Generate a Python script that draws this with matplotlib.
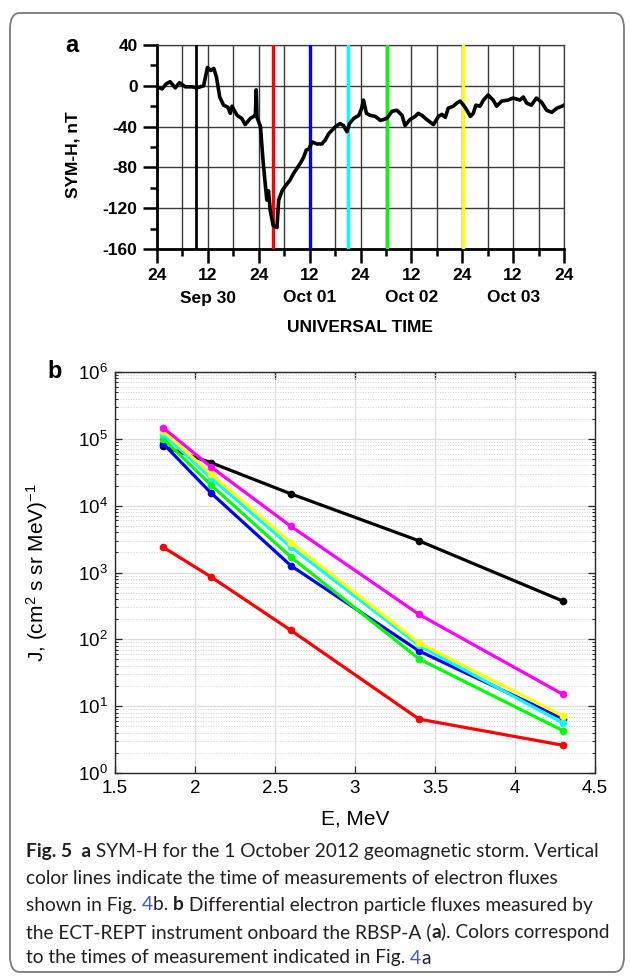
import matplotlib
matplotlib.use("Agg")
import matplotlib.pyplot as plt
from matplotlib.patches import FancyBboxPatch
from matplotlib.ticker import MultipleLocator, LogLocator, NullFormatter
import matplotlib.transforms as mtransforms

plt.rcParams['font.family'] = ['Liberation Sans', 'DejaVu Sans']
plt.rcParams['mathtext.fontset'] = 'custom'
plt.rcParams['mathtext.rm'] = 'Liberation Sans'
plt.rcParams['mathtext.default'] = 'regular'
plt.rcParams['axes.unicode_minus'] = False

# ---- panel a: SYM-H, hours from 30 Sep 00 UT
t_hours = [0, 1.2, 2.2, 3.1, 4.3, 5.3, 6.7, 8.3, 9.4, 11.0, 11.9, 12.7, 13.4, 14.0, 14.8,
           15.7, 16.7, 17.3, 17.7, 18.9, 20.0, 20.8, 22.0, 22.8, 23.2, 23.4, 23.6, 24.4,
           25.0, 25.6, 25.9, 26.3, 26.7, 27.4, 28.3, 28.7, 29.5, 30.3, 31.3, 32.2, 33.8,
           34.6, 35.2, 35.8, 36.6, 37.7, 38.9, 39.7, 40.5, 42.1, 43.2, 44.0, 44.8, 45.4,
           46.4, 47.6, 48.2, 48.7, 49.4, 50.3, 51.5, 52.7, 54.2, 55.4, 56.6, 57.8, 58.5,
           59.7, 60.9, 61.6, 62.5, 63.6, 65.2, 66.4, 67.2, 68.0, 68.7, 69.9, 70.7, 71.5,
           72.3, 73.1, 73.9, 74.6, 75.2, 76.2, 77.0, 78.1, 79.3, 80.1, 81.3, 82.8, 84.0,
           85.6, 86.4, 87.2, 88.3, 89.5, 90.7, 91.9, 93.1, 94.3, 95.5, 96.0]
symh = [-1, -3, 2, 4, -2, 3, -1, -1, -2, 0, 18, 15, 17, 9, -11,
        -19, -21, -27, -20, -29, -32, -38, -32, -30, -29, -4, -31, -40,
        -73, -99, -112, -103, -122, -137, -139, -112, -103, -98, -93, -86, -76,
        -70, -63, -62, -55, -57, -57, -53, -47, -40, -37, -39, -45, -37,
        -32, -29, -23, -14, -27, -29, -30, -34, -32, -25, -24, -29, -39,
        -33, -30, -27, -29, -33, -38, -30, -28, -31, -22, -20, -17, -15,
        -19, -24, -30, -27, -19, -20, -14, -9, -14, -20, -15, -14, -12,
        -14, -11, -17, -19, -12, -16, -24, -26, -22, -20, -19]

meas_times = [9.1, 27.3, 36.1, 45.1, 54.2, 72.2]
meas_colors = ['black', '#ff0000', '#0000ff', '#00ffff', '#00ff00', '#ffff00']

x_ticks = [0, 12, 24, 36, 48, 60, 72, 84, 96]
x_ticklabels = ['24', '12', '24', '12', '24', '12', '24', '12', '24']
date_pos = [12, 36, 60, 84]
date_labels = ['Sep 30', 'Oct 01', 'Oct 02', 'Oct 03']

# ---- panel b: spectra
energy = [1.8, 2.1, 2.6, 3.4, 4.3]
flux_black = [7.7e4, 4.4e4, 1.5e4, 2.98e3, 373]
flux_red = [2.4e3, 8.6e2, 136, 6.4, 2.6]
flux_blue = [8.5e4, 1.55e4, 1.26e3, 67, 6.5]
flux_green = [1.01e5, 2.04e4, 1.7e3, 51, 4.3]
flux_cyan = [1.2e5, 2.6e4, 2.4e3, 81, 5.6]
flux_yellow = [1.32e5, 2.97e4, 2.8e3, 88, 7.1]
flux_magenta = [1.47e5, 3.8e4, 4.9e3, 236, 15]

W, H = 630, 976
fig = plt.figure(figsize=(W / 100, H / 100), dpi=100)

box = FancyBboxPatch((10 / W, 4 / H), 614 / W, 959 / H,
                     boxstyle="round,pad=0,rounding_size=0.016",
                     transform=fig.transFigure, fc='none', ec='#7a7a7a', lw=1.3)
fig.patches.append(box)

# ===== panel a =====
ax1 = fig.add_axes([157 / W, 1 - 249 / H, 407 / W, 204 / H])
for t, c in zip(meas_times, meas_colors):
    ax1.axvline(t, color=c, lw=2.0 if c == 'black' else 2.4, zorder=3)
ax1.plot(t_hours, symh, color='black', lw=2.6, zorder=4, solid_joinstyle='round')
ax1.set_xlim(0, 96)
ax1.set_ylim(-160, 40)
ax1.set_xticks(x_ticks)
ax1.set_xticklabels(x_ticklabels)
ax1.xaxis.set_minor_locator(MultipleLocator(6))
ax1.set_yticks([40, 0, -40, -80, -120, -160])
ax1.yaxis.set_minor_locator(MultipleLocator(20))
ax1.grid(True, which='both', axis='x', color='#3a3a3a', lw=1.0)
ax1.grid(True, which='major', axis='y', color='#3a3a3a', lw=1.0)
ax1.set_axisbelow(True)
for s in ['left', 'bottom']:
    ax1.spines[s].set_linewidth(2.0)
for s in ['top', 'right']:
    ax1.spines[s].set_linewidth(0.9)
    ax1.spines[s].set_color('#3a3a3a')
ax1.tick_params(which='major', direction='out', length=10, width=1.8, pad=4,
                labelsize=12.5, top=False, right=False)
ax1.tick_params(which='minor', direction='out', length=5, width=1.8, top=False, right=False)
for lab in ax1.get_xticklabels() + ax1.get_yticklabels():
    lab.set_fontweight('bold')
trans = mtransforms.blended_transform_factory(ax1.transData, fig.transFigure)
for p, d in zip(date_pos, date_labels):
    ax1.text(p, 1 - 298 / H, d, transform=trans, ha='center', va='center',
             fontsize=12.5, fontweight='bold')
fig.text(360 / W, 1 - 328 / H, 'UNIVERSAL TIME', ha='center', va='center',
         fontsize=12.5, fontweight='bold')
fig.text(73 / W, 1 - 155 / H, 'SYM-H, nT', rotation=90, ha='center', va='center',
         fontsize=12.5, fontweight='bold')
fig.text(72 / W, 1 - 45 / H, 'a', ha='center', va='center', fontsize=17, fontweight='bold')

# ===== panel b =====
ax2 = fig.add_axes([115 / W, 1 - 773 / H, 480 / W, 401 / H])
series = [(flux_black, 'black'), (flux_red, '#ff0000'), (flux_blue, '#0000ff'),
          (flux_green, '#00ff00'), (flux_cyan, '#00ffff'), (flux_yellow, '#ffff00'),
          (flux_magenta, '#ff00ff')]
for f, c in series:
    ax2.plot(energy, f, '-o', color=c, lw=2.3, ms=4.5, mfc=c, mec=c, zorder=3)
ax2.set_yscale('log')
ax2.set_xlim(1.5, 4.5)
ax2.set_ylim(1, 1e6)
ax2.set_xticks([1.5, 2, 2.5, 3, 3.5, 4, 4.5])
ax2.set_xticklabels(['1.5', '2', '2.5', '3', '3.5', '4', '4.5'])
ax2.yaxis.set_major_locator(LogLocator(base=10, numticks=10))
ax2.yaxis.set_minor_locator(LogLocator(base=10, subs=range(2, 10), numticks=20))
ax2.yaxis.set_minor_formatter(NullFormatter())
ax2.grid(True, which='major', color='#dcdcdc', lw=0.9)
ax2.grid(True, which='minor', axis='y', color='#cfcfcf', lw=0.7, ls=':')
ax2.set_axisbelow(True)
for s in ax2.spines.values():
    s.set_linewidth(1.0)
    s.set_color('#262626')
ax2.tick_params(which='major', direction='in', length=5, width=0.9, top=True, right=True,
                labelsize=13.5, pad=5, colors='#262626', labelcolor='black')
ax2.tick_params(which='minor', direction='in', length=2.5, width=0.7, top=True, right=True,
                colors='#262626')
ax2.set_xlabel('E, MeV', fontsize=15, labelpad=9)
ax2.set_ylabel('J, (cm$^2$ s sr MeV)$^{-1}$', fontsize=15)
ax2.yaxis.set_label_coords(-(115 - 50) / 480, 0.5)
fig.text(55 / W, 1 - 371 / H, 'b', ha='center', va='center', fontsize=17, fontweight='bold')

# ===== caption =====
fig.canvas.draw()
renderer = fig.canvas.get_renderer()
cap_font = ['Lato', 'DejaVu Sans']
cap_color = '#231f20'
link = '#3b5bdb'


def run_width(s, weight, size):
    a = fig.text(0, 0, '|' + s + '|', fontsize=size, fontweight=weight, family=cap_font)
    b = fig.text(0, 0, '||', fontsize=size, fontweight=weight, family=cap_font)
    w = a.get_window_extent(renderer).width - b.get_window_extent(renderer).width
    a.remove()
    b.remove()
    return w


lines = [
    [('Fig. 5  a', 'bold', cap_color),
     (' SYM-H for the 1 October 2012 geomagnetic storm. Vertical', 'normal', cap_color)],
    [('color lines indicate the time of measurements of electron fluxes', 'normal', cap_color)],
    [('shown in Fig. ', 'normal', cap_color), ('4', 'normal', link), ('b. ', 'normal', cap_color),
     ('b', 'bold', cap_color), (' Differential electron particle fluxes measured by', 'normal', cap_color)],
    [('the ECT-REPT instrument onboard the RBSP-A (', 'normal', cap_color), ('a', 'bold', cap_color),
     ('). Colors correspond', 'normal', cap_color)],
    [('to the times of measurement indicated in Fig. ', 'normal', cap_color), ('4', 'normal', link),
     ('a', 'normal', cap_color)],
]
line_y = [852, 878, 905, 932, 958]

# fit the caption size so the first line spans the same width as in the figure
base = 10.0
w1 = sum(run_width(s, wgt, base) for s, wgt, _ in lines[0])
cap_size = base * 574 / w1

for runs, yy in zip(lines, line_y):
    x = 26
    for s, wgt, col in runs:
        fig.text(x / W, 1 - yy / H, s, fontsize=cap_size, fontweight=wgt, color=col,
                 family=cap_font, va='center', ha='left')
        x += run_width(s, wgt, cap_size)

fig.savefig('out.png', dpi=100)
